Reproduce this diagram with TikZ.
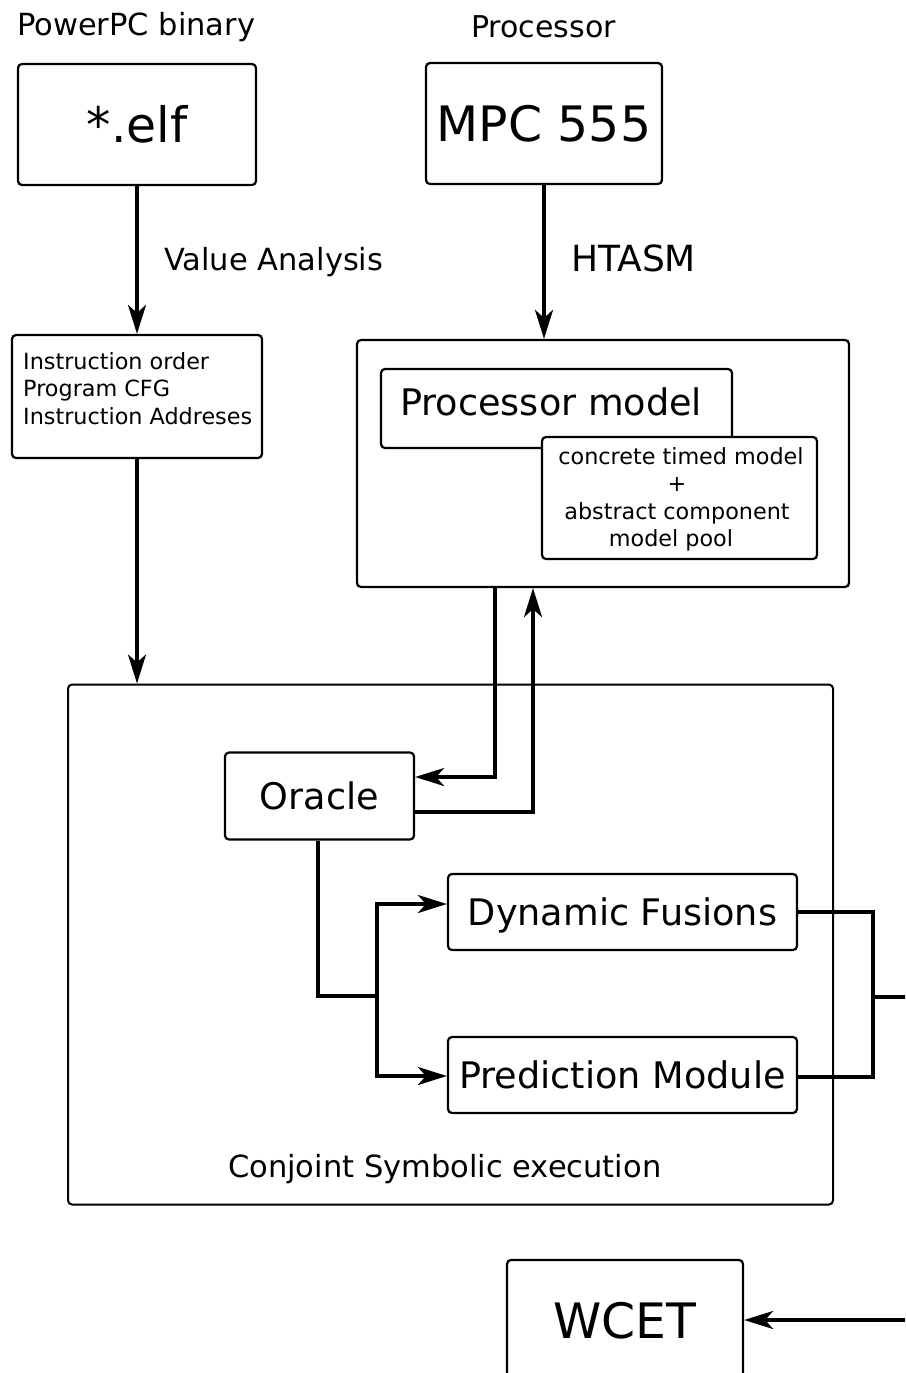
\documentclass[tikz,border=0pt]{standalone}
\usepackage{fontspec}
\setmainfont{DejaVu Sans}
\usetikzlibrary{arrows.meta}
\tikzset{
  box/.style={draw, rounded corners=4pt, line width=2.2pt, inner sep=0pt, fill=white},
  bigtxt/.style={font=\fontsize{48.8}{58}\selectfont, text height=35pt, text depth=0pt},
  midtxt/.style={font=\fontsize{36.6}{43}\selectfont, text height=26pt, text depth=0pt},
  captxt/.style={font=\fontsize{30.5}{36}\selectfont, inner sep=0pt, anchor=base west},
  smalltxt/.style={font=\fontsize{22.3}{27.6}\selectfont, inner sep=0pt},
  conn/.style={line width=3.5pt},
  arr/.style={conn, -{Stealth[length=29pt, width=18pt, inset=8pt]}},
}
\begin{document}
\begin{tikzpicture}[x=1pt, y=-1pt]
\useasboundingbox (0,0) rectangle (905,1373);
\clip (0,0) rectangle (905,1373);

% top labels
\node[captxt] (lblbin) at (17,35) {PowerPC binary};
\node[captxt, font=\fontsize{30}{36}\selectfont] (lblproc) at (471,37) {Processor};

% top boxes
\node[box, bigtxt, minimum width=238pt, minimum height=121pt] (elf) at (137,124.5) {*.elf};
\node[box, bigtxt, minimum width=236pt, minimum height=121pt] (mpc) at (544,123.5) {MPC 555};

\node[captxt] (lblva) at (164,270) {Value Analysis};
\node[captxt, font=\fontsize{36}{42}\selectfont] (lblhtasm) at (571,271) {HTASM};

% instruction box
\node[box, minimum width=250pt, minimum height=123pt] (inst) at (137,396.5) {};
\node[smalltxt, anchor=north west, align=left] (insttxt) at (23,352)
  {Instruction order\\Program CFG\\Instruction Addreses};

% processor model group
\node[box, minimum width=492pt, minimum height=247pt] (procouter) at (603,463.5) {};
\node[box, minimum width=351pt, minimum height=79pt] (procmodel) at (556.5,408.5) {};
\node[captxt, font=\fontsize{36.6}{43}\selectfont] (procmodeltxt) at (400,415) {Processor model};
\node[box, smalltxt, minimum width=275pt, minimum height=122pt] (concrete) at (679.5,498) {};
\node[smalltxt, anchor=north, align=center] (concretetxt) at (677,447)
  {\hspace*{8pt}concrete timed model\\+\\abstract component\hspace*{8pt}\\model pool\hspace*{12pt}};

% conjoint symbolic execution
\node[box, line width=2pt, minimum width=765pt, minimum height=520pt] (conj) at (450.5,944.5) {};
\node[captxt] (conjtxt) at (228,1177) {Conjoint Symbolic execution};

\node[box, midtxt, minimum width=189pt, minimum height=87pt] (oracle) at (319.5,796) {Oracle};
\node[box, midtxt, minimum width=349pt, minimum height=76pt] (df) at (622.5,912) {Dynamic Fusions};
\node[box, midtxt, minimum width=349pt, minimum height=76pt] (pm) at (622.5,1075) {Prediction Module};

% WCET
\node[box, bigtxt, minimum width=236pt, minimum height=121pt] (wcet) at (625,1320.5) {WCET};

% connectors
\draw[arr] (elf.south) -- (inst.north);
\draw[arr] (mpc.south) -- (mpc.south |- procouter.north);
\draw[arr] (inst.south) -- (inst.south |- conj.north);

\draw[arr] ([xshift=-108pt]procouter.south) |- ([yshift=19pt]oracle.east);
\draw[arr] ([yshift=-16pt]oracle.east) -| ([xshift=-70pt]procouter.south);

\coordinate (split) at (377,996);
\draw[conn] ([xshift=-1.5pt]oracle.south) |- (split);
\draw[arr] (split) |- ([yshift=8pt]df.west);
\draw[arr] (split) |- ([yshift=-1pt]pm.west);

\coordinate (join) at (873,997);
\coordinate (offA) at (920,997);
\draw[conn] (df.east) -| (join) |- ([yshift=-2pt]pm.east);
\draw[conn] (join) -- (offA);

\coordinate (offB) at (920,1320);
\draw[arr] (offB) -- (wcet.east |- offB);
\end{tikzpicture}
\end{document}
